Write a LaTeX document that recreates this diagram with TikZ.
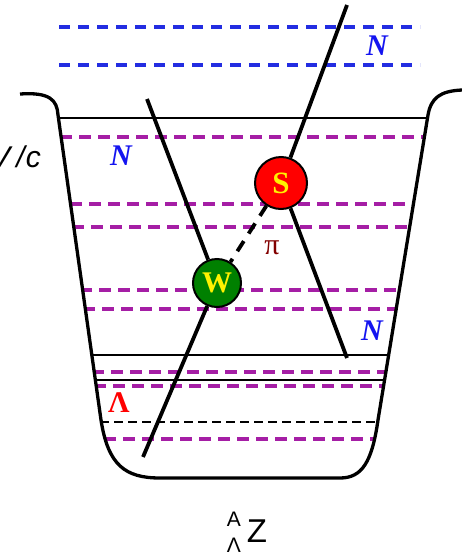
\documentclass[tikz,border=0pt]{standalone}
\usepackage{fontspec}
\setmainfont{Liberation Serif}
\newfontfamily\arialf{Liberation Sans}
\definecolor{wellmag}{RGB}{165,30,165}
\definecolor{levblue}{RGB}{35,45,225}
\definecolor{labblue}{RGB}{20,20,240}
\definecolor{pired}{RGB}{130,0,0}
\definecolor{wgreen}{RGB}{0,128,0}
\tikzset{
  wall/.style={line width=3.3pt, line join=round},
  thinline/.style={line width=1.6pt},
  magdash/.style={draw=wellmag, line width=3.4pt, dash pattern=on 12pt off 7pt},
  bluedash/.style={draw=levblue, line width=3.3pt, dash pattern=on 11pt off 8pt},
  thindash/.style={line width=1.6pt, dash pattern=on 9pt off 5pt},
  track/.style={line width=3.8pt},
  pidash/.style={line width=3.8pt, dash pattern=on 12pt off 9pt},
  vertex/.style={circle, draw, line width=2pt, inner sep=0pt, text=yellow},
  nlab/.style={text=labblue, inner sep=0pt, font=\fontsize{30}{30}\selectfont\bfseries\itshape},
}
\begin{document}
\begin{tikzpicture}[x=1pt,y=-1pt]
\clip (0,0) rectangle (462,557);
% blue levels above the well
\draw[bluedash] (59,27) -- (420,27);
\draw[bluedash] (59,65) -- (420,65);
% levels inside the well
\begin{scope}
\clip (58,115) -- (101,420) .. controls (108,465) and (125,478) .. (160,478) -- (340,478) .. controls (362,478) and (372,462) .. (378,420) -- (428,115) -- cycle;
\draw[thinline] (40,118) -- (440,118);
\draw[magdash] (60,137) -- (440,137);
\draw[magdash] (70,204) -- (440,204);
\draw[magdash] (72,227) -- (440,227);
\draw[magdash] (80,290) -- (440,290);
\draw[magdash] (83,309) -- (440,309);
\draw[thinline] (80,355) -- (440,355);
\draw[magdash] (92,372) -- (440,372);
\draw[thinline] (80,380) -- (440,380);
\draw[magdash] (94,386) -- (440,386);
\draw[thindash] (100,422) -- (440,422);
\draw[magdash] (104,439) -- (440,439);
\end{scope}
% the well
\draw[wall] (20,94) .. controls (50,92) and (57,100) .. (58,115) -- (101,420) .. controls (108,465) and (125,478) .. (160,478) -- (340,478) .. controls (362,478) and (372,462) .. (378,420) -- (428,115) .. controls (431,98) and (440,91) .. (462,90);
% vertices
\node[vertex, fill=red, minimum size=52pt, font=\fontsize{31}{31}\selectfont\bfseries] (S) at (281,183) {S};
\node[vertex, fill=wgreen, minimum size=48pt, font=\fontsize{30}{30}\selectfont\bfseries] (W) at (217,283) {W};
\coordinate (tl) at (147,99);
\coordinate (bl) at (143,457);
\coordinate (tr) at (347,5);
\coordinate (br) at (347,358);
\draw[track] (tl) -- (W);
\draw[track] (W) -- (bl);
\draw[track] (tr) -- (S);
\draw[track] (S) -- (br);
\draw[pidash] (S) -- (W);
% labels
\node[nlab] (n1) at (377,46) {N};
\node[nlab] (n2) at (121,156) {N};
\node[nlab] (n3) at (372,331) {N};
\node[text=red, inner sep=0pt, font=\fontsize{30}{30}\selectfont\bfseries] (lam) at (119,403) {Λ};
\node[text=pired, inner sep=0pt, font=\fontsize{30}{30}\selectfont] (pi) at (272,248) {π};
\node[anchor=base east, inner sep=0pt, font=\arialf\fontsize{30}{30}\selectfont\itshape] (unit) at (41,167) {MeV\kern6pt/\kern1pt c};
\node[inner sep=0pt, font=\arialf\fontsize{21}{21}\selectfont] (mA) at (234,519) {A};
\node[inner sep=0pt, font=\arialf\fontsize{21}{21}\selectfont] (mL) at (234,545) {Λ};
\node[inner sep=0pt, font=\arialf\fontsize{33}{33}\selectfont] (mZ) at (257,531) {Z};
\end{tikzpicture}
\end{document}
